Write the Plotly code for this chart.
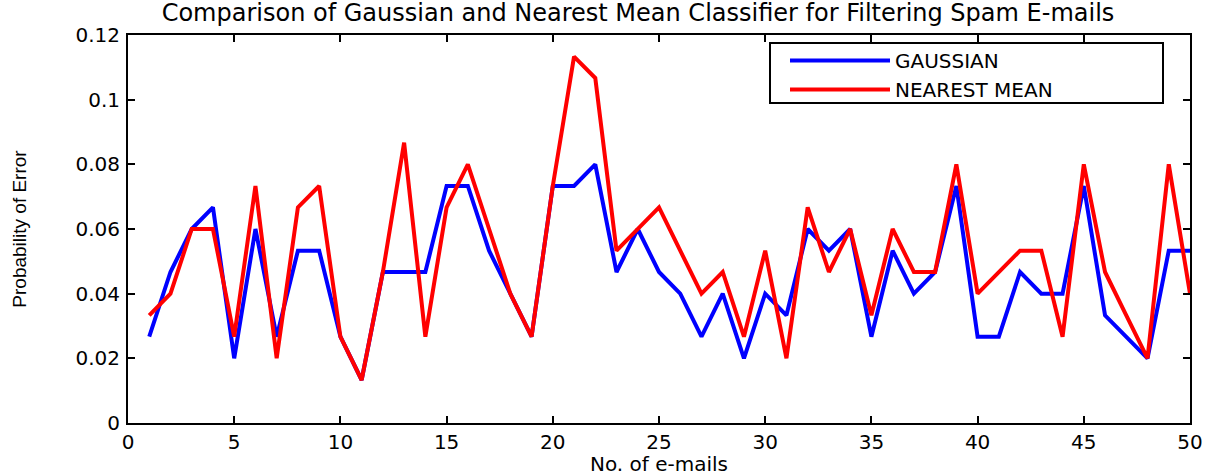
import plotly.graph_objects as go

emails = list(range(1, 51))
gaussian = [0.0267, 0.0467, 0.0600, 0.0667, 0.0200, 0.0600, 0.0267, 0.0533, 0.0533, 0.0267,
            0.0133, 0.0467, 0.0467, 0.0467, 0.0733, 0.0733, 0.0533, 0.0400, 0.0267, 0.0733,
            0.0733, 0.0800, 0.0467, 0.0600, 0.0467, 0.0400, 0.0267, 0.0400, 0.0200, 0.0400,
            0.0333, 0.0600, 0.0533, 0.0600, 0.0267, 0.0533, 0.0400, 0.0467, 0.0733, 0.0267,
            0.0267, 0.0467, 0.0400, 0.0400, 0.0733, 0.0333, 0.0267, 0.0200, 0.0533, 0.0533]
nearest_mean = [0.0333, 0.0400, 0.0600, 0.0600, 0.0267, 0.0733, 0.0200, 0.0667, 0.0733, 0.0267,
                0.0133, 0.0467, 0.0867, 0.0267, 0.0667, 0.0800, 0.0600, 0.0400, 0.0267, 0.0733,
                0.1133, 0.1067, 0.0533, 0.0600, 0.0667, 0.0533, 0.0400, 0.0467, 0.0267, 0.0533,
                0.0200, 0.0667, 0.0467, 0.0600, 0.0333, 0.0600, 0.0467, 0.0467, 0.0800, 0.0400,
                0.0467, 0.0533, 0.0533, 0.0267, 0.0800, 0.0467, 0.0333, 0.0200, 0.0800, 0.0400]

x_ticks = [0, 5, 10, 15, 20, 25, 30, 35, 40, 45, 50]
y_ticks = [0, 0.02, 0.04, 0.06, 0.08, 0.1, 0.12]
y_tick_labels = ["0", "0.02", "0.04", "0.06", "0.08", "0.1", "0.12"]

W, H = 1225, 476
ML, MR, MT, MB = 128, 35, 35, 53
PW, PH = W - ML - MR, H - MT - MB

def px_x(p):  # window pixel -> paper fraction
    return (p - ML) / PW

def px_y(p):
    return (H - MB - p) / PH

fig = go.Figure()
fig.add_trace(go.Scatter(x=emails, y=gaussian, mode="lines", name="GAUSSIAN",
                         line=dict(color="#0000FF", width=4)))
fig.add_trace(go.Scatter(x=emails, y=nearest_mean, mode="lines", name="NEAREST MEAN",
                         line=dict(color="#FF0000", width=4)))

font_main = "DejaVu Sans, Arial, sans-serif"

fig.update_layout(
    width=W, height=H,
    margin=dict(l=ML, r=MR, t=MT, b=MB, autoexpand=False),
    paper_bgcolor="white", plot_bgcolor="white",
    title=dict(text="Comparison of Gaussian and Nearest Mean Classifier for Filtering Spam E-mails",
               x=638 / W, xanchor="center", xref="container",
               y=1 - 13 / H, yanchor="middle", yref="container",
               font=dict(family=font_main, size=24, color="black")),
    showlegend=True,
    legend=dict(x=px_x(785), y=px_y(41), xanchor="left", yanchor="top",
                bgcolor="rgba(0,0,0,0)", borderwidth=0,
                font=dict(family=font_main, size=20, color="black"),
                itemwidth=100, tracegroupgap=0),
    shapes=[dict(type="rect", xref="paper", yref="paper",
                 x0=px_x(770), x1=px_x(1163), y0=px_y(103), y1=px_y(43),
                 line=dict(color="black", width=2), fillcolor="white", layer="above")],
)

fig.update_xaxes(range=[0, 50], tickmode="array", tickvals=x_ticks, automargin=False,
                 ticks="inside", ticklen=7, tickwidth=1.5, tickcolor="black",
                 showline=True, linecolor="black", linewidth=2, mirror="ticks",
                 showgrid=False, zeroline=False,
                 tickfont=dict(family=font_main, size=20, color="black"),
                 ticklabelstandoff=0,
                 title=dict(text="No. of e-mails", standoff=0,
                            font=dict(family=font_main, size=20, color="black")))
fig.update_yaxes(range=[0, 0.12], tickmode="array", tickvals=y_ticks, ticktext=y_tick_labels,
                 automargin=False,
                 ticks="inside", ticklen=7, tickwidth=1.5, tickcolor="black",
                 showline=True, linecolor="black", linewidth=2, mirror="ticks",
                 showgrid=False, zeroline=False,
                 tickfont=dict(family=font_main, size=20, color="black"),
                 ticklabelstandoff=2,
                 title=dict(text="Probability of Error", standoff=44,
                            font=dict(family="Liberation Sans, Arial, sans-serif", size=19, color="black")))

# remove the browser's default 8px body margin so the figure fills the window exactly
fig.write_html("out.html", config={"displayModeBar": False},
               post_script="document.body.style.margin='0';document.body.style.overflow='hidden';")
